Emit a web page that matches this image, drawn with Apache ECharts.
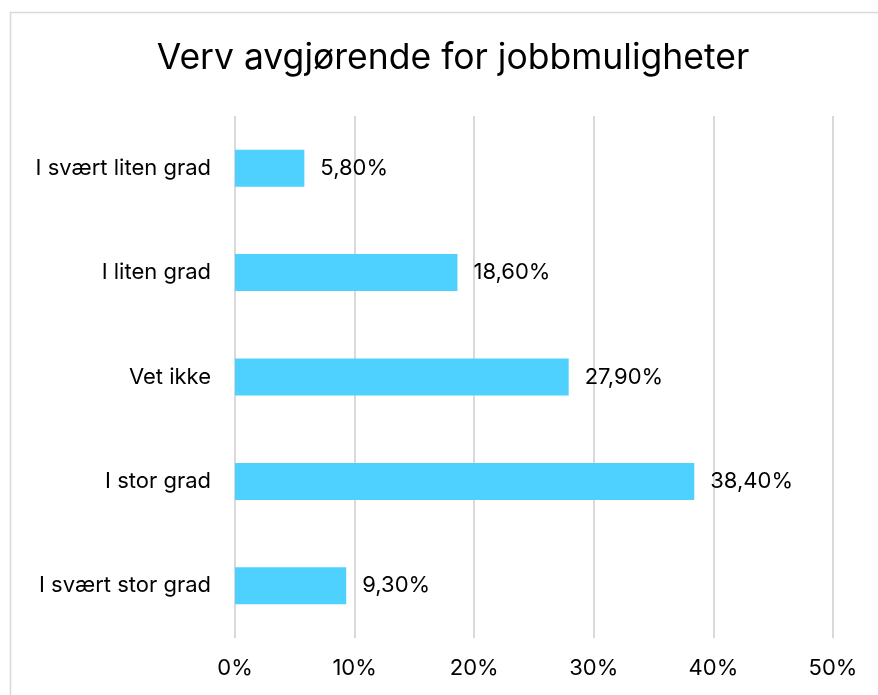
<!DOCTYPE html>
<html>
<head>
<meta charset="utf-8">
<script src="https://cdn.jsdelivr.net/npm/echarts@6/dist/echarts.min.js"></script>
<style>
  html, body { margin: 0; padding: 0; background: #fff; }
  #chart { width: 878px; height: 695px; }
</style>
</head>
<body>
<div id="chart"></div>
<script>
// kategorier ovenfra og ned
var categories = ['I svært liten grad', 'I liten grad', 'Vet ikke', 'I stor grad', 'I svært stor grad'];
var values = [5.8, 18.6, 27.9, 38.4, 9.3];
var tickLabels = ['0%', '10%', '20%', '30%', '40%', '50%'];

var myChart = echarts.init(document.getElementById('chart'));
var font = 'Inter, "Noto Sans", sans-serif';

var option = {
  backgroundColor: '#fff',
  animation: false,
  textStyle: { fontFamily: font },
  graphic: [{
    type: 'rect',
    shape: { x: 10.5, y: 12.5, width: 900, height: 720 },
    style: { fill: 'none', stroke: '#d9d9d9', lineWidth: 1.5 },
    z: -1
  }],
  title: {
    text: 'Verv avgjørende for jobbmuligheter',
    left: 448,
    top: 35,
    textAlign: 'center',
    textStyle: { fontFamily: font, fontSize: 35.5, fontWeight: 'normal', color: '#000' }
  },
  grid: { left: 235, right: 45, top: 116, bottom: 57, containLabel: false },
  xAxis: {
    type: 'value',
    min: 0,
    max: 50,
    interval: 10,
    axisLine: { show: false },
    axisTick: { show: false },
    splitLine: { lineStyle: { color: '#d9d9d9', width: 2 } },
    axisLabel: {
      fontFamily: font, fontSize: 22, color: '#000', margin: 19,
      formatter: function (v) { return tickLabels[Math.round(v / 10)]; }
    }
  },
  yAxis: {
    type: 'category',
    inverse: true,
    data: categories,
    axisLine: { show: false },
    axisTick: { show: false },
    axisLabel: { fontFamily: font, fontSize: 22, color: '#000', margin: 24 }
  },
  series: [{
    type: 'bar',
    data: values,
    barWidth: 37,
    itemStyle: { color: '#4fd1ff' },
    label: {
      show: true,
      position: 'right',
      distance: 16,
      fontFamily: font,
      fontSize: 22,
      color: '#000',
      formatter: function (p) { return p.value.toFixed(2).replace('.', ',') + '%'; }
    }
  }]
};

myChart.setOption(option);
</script>
</body>
</html>
